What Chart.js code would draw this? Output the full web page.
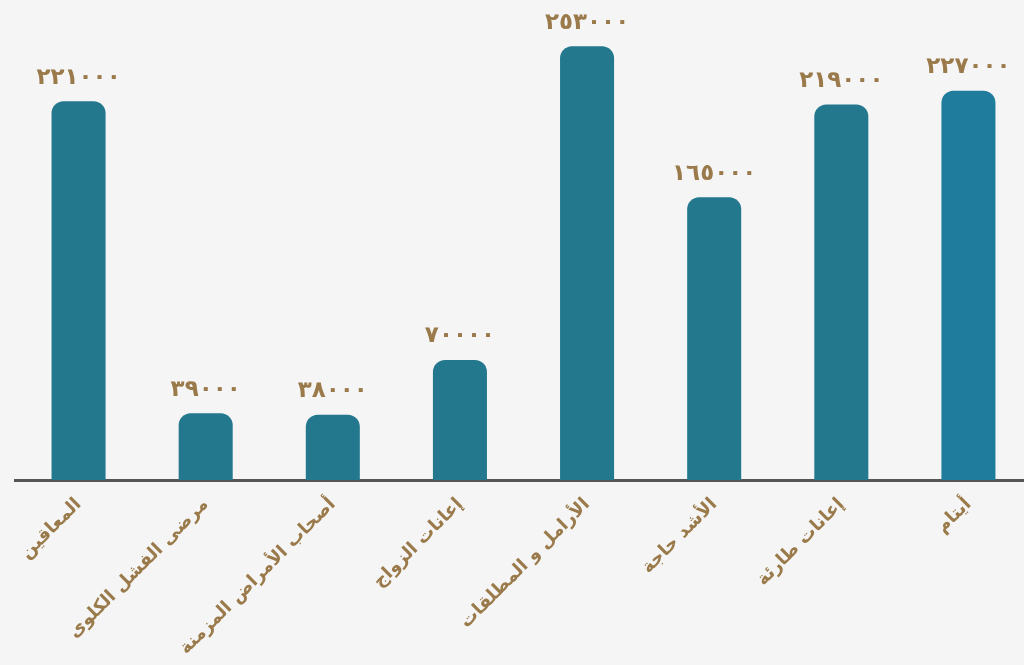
<!DOCTYPE html>
<html lang="ar">
<head>
<meta charset="utf-8">
<script src="https://cdn.jsdelivr.net/npm/chart.js@4.4.1/dist/chart.umd.min.js"></script>
<style>
  html, body { margin: 0; padding: 0; overflow: hidden; background: #f5f5f5; }
  #wrap { width: 1040px; height: 665px; position: relative; }
</style>
</head>
<body>
<div id="wrap"><canvas id="grafico"></canvas></div>
<script>
const categorias = ["المعاقين", "مرضى الفشل الكلوى", "أصحاب الأمراض المزمنة", "إعانات الزواج",
  "الأرامل و المطلقات", "الأشد حاجة", "إعانات طارئة", "أيتام"];
const valores = [221000, 39000, 38000, 70000, 253000, 165000, 219000, 227000];
const coresBarras = ["#24788e", "#24788e", "#24788e", "#24788e", "#24788e", "#24788e", "#24788e", "#1f7c9c"];

const dourado = "#9a7a4a";

function arabicDigits(n) {
  return String(n).replace(/[0-9]/g, d => "٠١٢٣٤٥٦٧٨٩"[+d]);
}

const rotulosValores = {
  id: "rotulosValores",
  afterDatasetsDraw(chart) {
    const ctx = chart.ctx;
    const meta = chart.getDatasetMeta(0);
    ctx.save();
    ctx.fillStyle = dourado;
    ctx.font = "bold 23px 'DejaVu Sans'";
    ctx.textAlign = "center";
    ctx.textBaseline = "bottom";
    meta.data.forEach((bar, i) => {
      ctx.fillText(arabicDigits(valores[i]), bar.x, bar.y - 12);
    });
    ctx.restore();
  }
};

new Chart(document.getElementById("grafico"), {
  type: "bar",
  data: {
    labels: categorias,
    datasets: [{
      data: valores,
      backgroundColor: coresBarras,
      borderRadius: 12,
      borderSkipped: "start",
      barPercentage: 0.85,
      categoryPercentage: 0.5
    }]
  },
  options: {
    responsive: true,
    maintainAspectRatio: false,
    animation: false,
    layout: { padding: { left: 15, right: 8, top: 0, bottom: 0 } },
    plugins: { legend: { display: false }, tooltip: { enabled: false } },
    scales: {
      x: {
        grid: { display: false },
        border: { display: true, color: "#555", width: 3 },
        ticks: {
          color: dourado,
          font: { family: "'DejaVu Sans'", size: 18, weight: "bold" },
          minRotation: 45,
          maxRotation: 45,
          padding: 6,
          autoSkip: false
        },
        afterFit(scale) { scale.height = 185; }
      },
      y: { display: false, min: 0, max: 280000 }
    }
  },
  plugins: [rotulosValores]
});
</script>
</body>
</html>
